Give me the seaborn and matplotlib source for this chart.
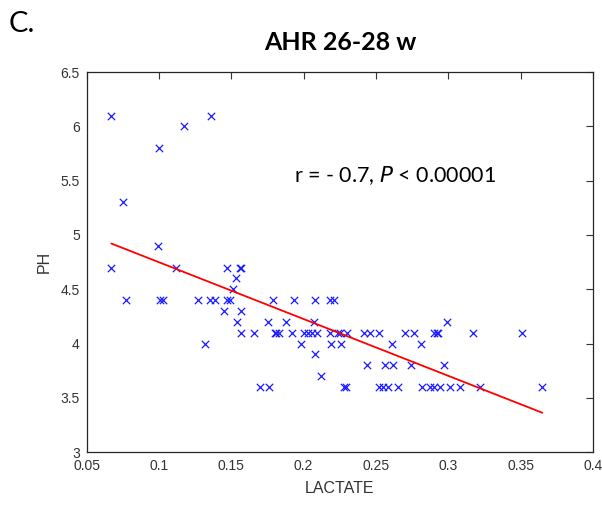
import numpy as np
import pandas as pd
import seaborn as sns
import matplotlib
matplotlib.use("Agg")
import matplotlib.pyplot as plt

lactate = [0.067, 0.136, 0.117, 0.100, 0.075, 0.099,
           0.067, 0.112, 0.147, 0.156, 0.157,
           0.153, 0.151,
           0.077, 0.101, 0.103, 0.127, 0.135, 0.139, 0.147, 0.149, 0.179, 0.193, 0.208, 0.218, 0.221,
           0.145, 0.157,
           0.154, 0.175, 0.188, 0.207, 0.299,
           0.157, 0.166, 0.180, 0.181, 0.183, 0.192, 0.200, 0.203, 0.206, 0.209, 0.218, 0.224, 0.225,
           0.230, 0.242, 0.246, 0.252, 0.270, 0.276, 0.290, 0.292, 0.293, 0.317, 0.351,
           0.132, 0.198, 0.219, 0.226, 0.261, 0.281,
           0.208,
           0.244, 0.256, 0.262, 0.274, 0.297,
           0.212,
           0.170, 0.176, 0.228, 0.229, 0.252, 0.255, 0.258, 0.265, 0.282, 0.287, 0.290, 0.294,
           0.301, 0.308, 0.322, 0.365]
ph = [6.1, 6.1, 6.0, 5.8, 5.3, 4.9,
      4.7, 4.7, 4.7, 4.7, 4.7,
      4.6, 4.5,
      4.4, 4.4, 4.4, 4.4, 4.4, 4.4, 4.4, 4.4, 4.4, 4.4, 4.4, 4.4, 4.4,
      4.3, 4.3,
      4.2, 4.2, 4.2, 4.2, 4.2,
      4.1, 4.1, 4.1, 4.1, 4.1, 4.1, 4.1, 4.1, 4.1, 4.1, 4.1, 4.1, 4.1,
      4.1, 4.1, 4.1, 4.1, 4.1, 4.1, 4.1, 4.1, 4.1, 4.1, 4.1,
      4.0, 4.0, 4.0, 4.0, 4.0, 4.0,
      3.9,
      3.8, 3.8, 3.8, 3.8, 3.8,
      3.7,
      3.6, 3.6, 3.6, 3.6, 3.6, 3.6, 3.6, 3.6, 3.6, 3.6, 3.6, 3.6,
      3.6, 3.6, 3.6, 3.6]

x_ticks = [0.05, 0.1, 0.15, 0.2, 0.25, 0.3, 0.35, 0.4]
x_tick_labels = ["0.05", "0.1", "0.15", "0.2", "0.25", "0.3", "0.35", "0.4"]
y_ticks = [3, 3.5, 4, 4.5, 5, 5.5, 6, 6.5]
y_tick_labels = ["3", "3.5", "4", "4.5", "5", "5.5", "6", "6.5"]

title = "AHR 26-28 w"
panel = "C."
x_label = "LACTATE"
y_label = "PH"
annotation = r"r = - 0.7, $\it{P}$ < 0.00001"

df = pd.DataFrame({"LACTATE": lactate, "PH": ph})

sns.set_theme(style="white")
plt.rcParams["font.family"] = ["Liberation Sans", "DejaVu Sans"]

fig = plt.figure(figsize=(6.02, 5.08), dpi=100)
ax = fig.add_axes([0.144, 0.110, 0.841, 0.748])

sns.scatterplot(data=df, x="LACTATE", y="PH", ax=ax, marker="x", color="#1a1aff",
                s=28, linewidth=0.9, legend=False)

# least-squares line between min and max x (like MATLAB lsline)
coef = np.polyfit(df["LACTATE"], df["PH"], 1)
xl = np.array([df["LACTATE"].min(), df["LACTATE"].max()])
sns.lineplot(x=xl, y=np.polyval(coef, xl), ax=ax, color="#ff0000", linewidth=1.3)

ax.set_xlim(0.05, 0.4)
ax.set_ylim(3, 6.5)
ax.set_xticks(x_ticks)
ax.set_xticklabels(x_tick_labels)
ax.set_yticks(y_ticks)
ax.set_yticklabels(y_tick_labels)
ax.tick_params(direction="in", length=5, width=0.8, top=True, right=True,
               labelsize=10, colors="#333333", pad=5)
for sp in ax.spines.values():
    sp.set_color("#262626")
    sp.set_linewidth(0.9)
ax.set_xlabel(x_label, fontsize=11.5, color="#333333", labelpad=6)
ax.set_ylabel(y_label, fontsize=11.5, color="#333333", labelpad=6)

ax.set_title(title, fontsize=18, fontweight="bold", family=["Lato", "DejaVu Sans"],
             color="black", pad=16)
fig.text(0.015, 0.978, panel, fontsize=21, family=["Lato", "DejaVu Sans"],
         fontweight="normal", va="top", ha="left", color="black")
ax.text(0.263, 5.55, annotation, fontsize=15.5,
        family=["Lato", "DejaVu Sans"], color="black", va="center", ha="center")

fig.savefig("out.png", dpi=100)
